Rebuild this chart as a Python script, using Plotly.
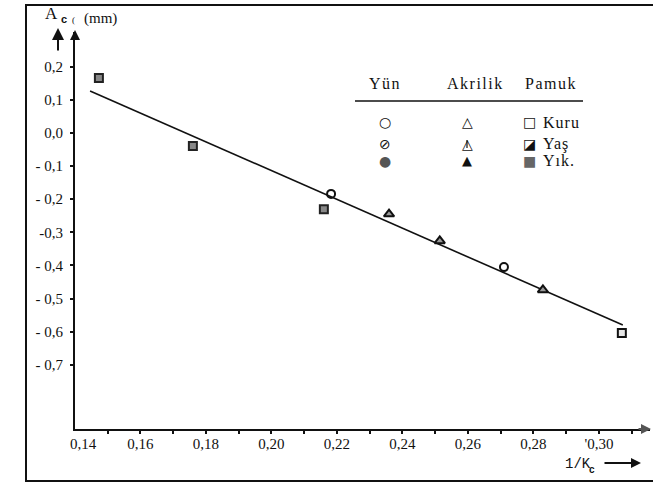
import plotly.graph_objects as go

# ---------------- data ----------------
yun_x = [0.2182, 0.2710]
yun_y = [-0.184, -0.405]

akrilik_x = [0.2359, 0.2514, 0.2829]
akrilik_y = [-0.245, -0.326, -0.474]

pamuk_kuru_x = [0.3070]
pamuk_kuru_y = [-0.604]
pamuk_yik_x = [0.1473, 0.1760, 0.2160]
pamuk_yik_y = [0.166, -0.039, -0.230]

fit_x = [0.1446, 0.3073]
fit_y = [0.127, -0.580]

x_ticks = [0.14, 0.16, 0.18, 0.20, 0.22, 0.24, 0.26, 0.28, 0.30]
x_ticktext = ["0,14", "0,16", "0,18", "0,20", "0,22", "0,24", "0,26", "0,28", "'0,30"]
x_minor = [0.15, 0.16, 0.17, 0.18, 0.19, 0.20, 0.21, 0.22, 0.23, 0.24, 0.25,
           0.26, 0.27, 0.28, 0.29, 0.30, 0.31]
y_ticks = [0.2, 0.1, 0.0, -0.1, -0.2, -0.3, -0.4, -0.5, -0.6, -0.7]
y_ticktext = ["0,2", "0,1", "0,0", "- 0,1", "- 0,2", "-0,3", "- 0,4", "- 0,5", "- 0,6", "- 0,7"]

legend_cols = ["Yün", "Akrilik", "Pamuk"]
legend_rows = ["Kuru", "Yaş", "Yık."]

# ---------------- layout helpers ----------------
W, H = 653, 487
L, R, T, B = 75, 3, 32, 58
PW, PH = W - L - R, H - T - B


def px(x):
    return (x - L) / PW


def py(y):
    return (H - B - y) / PH


SERIF = "Liberation Serif"
SYM = "DejaVu Sans"

fig = go.Figure()

fig.add_trace(go.Scatter(x=fit_x, y=fit_y, mode="lines",
                         line=dict(color="#111", width=1.6), hoverinfo="skip"))
fig.add_trace(go.Scatter(x=yun_x, y=yun_y, mode="markers",
                         marker=dict(symbol="circle-open", size=8, color="#111",
                                     line=dict(width=2, color="#111"))))
fig.add_trace(go.Scatter(x=akrilik_x, y=akrilik_y, mode="markers",
                         marker=dict(symbol="triangle-up", size=9, color="#999",
                                     line=dict(width=2, color="#111"))))
fig.add_trace(go.Scatter(x=pamuk_kuru_x, y=pamuk_kuru_y, mode="markers",
                         marker=dict(symbol="square", size=8, color="#e6e6e6",
                                     line=dict(width=2, color="#111"))))
fig.add_trace(go.Scatter(x=pamuk_yik_x, y=pamuk_yik_y, mode="markers",
                         marker=dict(symbol="square", size=8, color="#888",
                                     line=dict(width=2, color="#222"))))

ann = []
# legend table headers (left edges)
for name, lx in zip(legend_cols, [367, 445, 523]):
    ann.append(dict(x=px(lx), y=py(83), xanchor="left",
                    text=f"<span style='letter-spacing:1.5px'>{name}</span>",
                    showarrow=False, font=dict(family=SERIF, size=16, color="#111")))
# row labels
for name, cy in zip(legend_rows, [122, 144, 161]):
    ann.append(dict(x=px(541), y=py(cy), xanchor="left",
                    text=f"<span style='letter-spacing:1px'>{name}</span>",
                    showarrow=False, font=dict(family=SERIF, size=16, color="#111")))
# legend symbols
sym_rows = [
    ("○", "△", "□"),
    ("⊘", "△", "◪"),
    ("●", "▲", "■"),
]
sym_colors = [("#111", "#111", "#111"), ("#111", "#111", "#111"), ("#555", "#111", "#666")]
sym_sizes = [(14, 14, 14), (14, 14, 14), (14, 13, 14)]
for (s1, s2, s3), (c1, c2, c3), (z1, z2, z3), cy in zip(sym_rows, sym_colors, sym_sizes, [122, 144, 161]):
    for s, c, z, cx in zip((s1, s2, s3), (c1, c2, c3), (z1, z2, z3), (385, 467, 529)):
        ann.append(dict(x=px(cx), y=py(cy), text=s, showarrow=False,
                        font=dict(family=SYM, size=z, color=c)))

# axis titles
ann.append(dict(x=px(43), y=py(14), xanchor="left", text="A", showarrow=False,
                font=dict(family=SERIF, size=17, color="#111")))
ann.append(dict(x=px(59), y=py(19), xanchor="left", text="<b>c</b>", showarrow=False,
                font=dict(family="Liberation Sans", size=11, color="#111")))
ann.append(dict(x=px(70), y=py(20), xanchor="left", text="(", showarrow=False,
                font=dict(family=SERIF, size=9, color="#111")))
ann.append(dict(x=px(82), y=py(18), xanchor="left", text="(mm)",
                showarrow=False, font=dict(family=SERIF, size=15, color="#111")))
ann.append(dict(x=px(58), y=py(28), ax=0, ay=24, text="", showarrow=True,
                arrowhead=2, arrowsize=1.2, arrowwidth=2, arrowcolor="#111"))
ann.append(dict(x=px(75), y=py(30), ax=0, ay=10, text="", showarrow=True,
                arrowhead=2, arrowsize=1, arrowwidth=2, arrowcolor="#111"))
ann.append(dict(x=px(651), y=py(429), ax=-14, ay=0, text="", showarrow=True,
                arrowhead=2, arrowsize=1, arrowwidth=2, arrowcolor="#555"))
ann.append(dict(x=px(563), y=py(464), xanchor="left", text="1/K", showarrow=False,
                font=dict(family="Liberation Mono", size=14, color="#111")))
ann.append(dict(x=px(587), y=py(470), xanchor="left", text="<b>c</b>", showarrow=False,
                font=dict(family="Liberation Sans", size=10, color="#111")))
ann.append(dict(x=px(641), y=py(463), ax=-38, ay=0, text="", showarrow=True,
                arrowhead=2, arrowsize=1, arrowwidth=2, arrowcolor="#111"))

for a in ann:
    a.setdefault("xref", "paper")
    a.setdefault("yref", "paper")
    a.setdefault("xanchor", "center")
    a.setdefault("yanchor", "middle")
    if a.get("showarrow"):
        a["axref"] = "pixel"
        a["ayref"] = "pixel"

shapes = [
    # outer frame
    dict(type="rect", xref="paper", yref="paper", x0=px(26), x1=px(660),
         y0=py(481), y1=py(5), line=dict(color="#111", width=2)),
    # legend rule
    dict(type="line", xref="paper", yref="paper", x0=px(355), x1=px(583),
         y0=py(101), y1=py(101), line=dict(color="#111", width=1.5)),
    # vertical bar inside the wet-acrylic legend triangle
    dict(type="line", xref="paper", yref="paper", x0=px(467), x1=px(467),
         y0=py(148), y1=py(140), line=dict(color="#111", width=1.2)),
]

x_tickpos = [v + (0.0025 if i == 0 else 0) for i, v in enumerate(x_ticks)]

fig.update_layout(
    width=W, height=H,
    margin=dict(l=L, r=R, t=T, b=B),
    paper_bgcolor="white", plot_bgcolor="white",
    showlegend=False,
    annotations=ann, shapes=shapes,
    xaxis=dict(range=[0.14, 0.3156], showgrid=False, zeroline=False,
               showline=True, linecolor="#111", linewidth=2,
               tickvals=x_tickpos, ticktext=x_ticktext, ticks="",
               tickfont=dict(family=SERIF, size=15, color="#111"),
               minor=dict(tickvals=x_minor, ticks="outside", ticklen=3,
                          tickcolor="#111", tickwidth=2),
               fixedrange=True),
    yaxis=dict(range=[-0.894, 0.305], showgrid=False, zeroline=False,
               showline=True, linecolor="#111", linewidth=2,
               tickvals=y_ticks, ticktext=y_ticktext, ticks="outside",
               ticklen=3, tickwidth=2, tickcolor="#111", ticklabelstandoff=4,
               tickfont=dict(family=SERIF, size=15, color="#111"),
               fixedrange=True),
)

fig.write_html("out.html", config={"displayModeBar": False},
               post_script="document.body.style.margin='0';document.body.style.overflow='hidden';")
